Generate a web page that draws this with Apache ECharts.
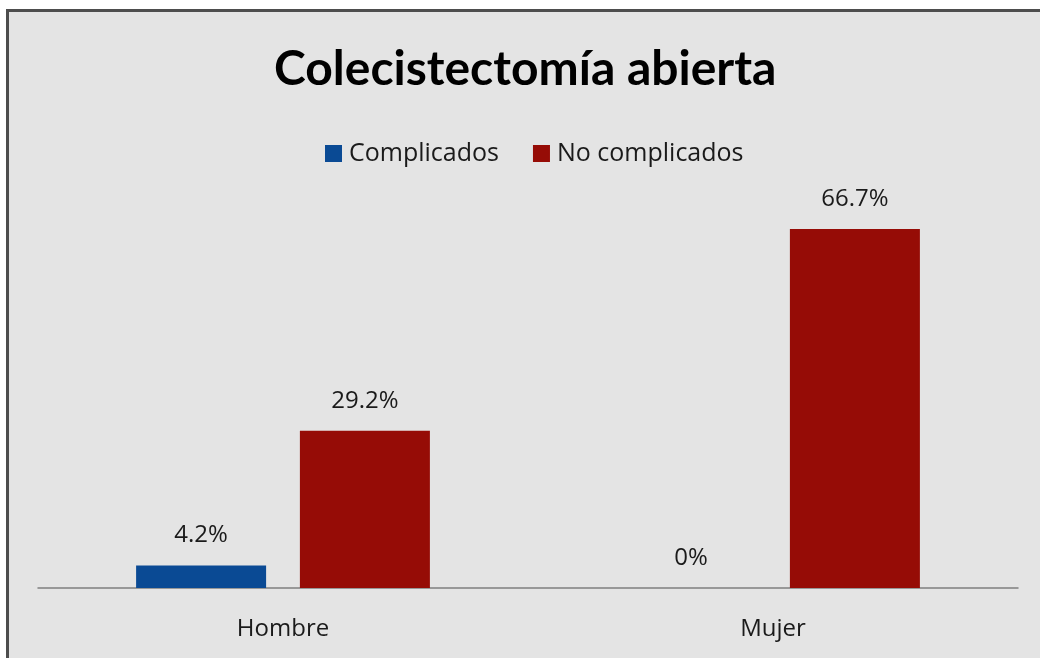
<!DOCTYPE html>
<html>
<head>
<meta charset="utf-8">
<script src="https://cdn.jsdelivr.net/npm/echarts@6/dist/echarts.min.js"></script>
<style>
html,body{margin:0;padding:0;background:#ffffff;}
#chart{width:1040px;height:658px;}
</style>
</head>
<body>
<div id="chart"></div>
<script>
var categories = ['Hombre', 'Mujer'];
var seriesNames = ['Complicados', 'No complicados'];
var complicados = [4.2, 0];
var noComplicados = [29.2, 66.7];
var labelTexts = [['4.2%', '0%'], ['29.2%', '66.7%']];

var chart = echarts.init(document.getElementById('chart'));
var titleFont = 'Lato, sans-serif';
var fontFam = '"Open Sans", Lato, sans-serif';
function mkLabel(idx) {
  return {
    show: true, position: 'top', distance: 18,
    color: '#1a1a1a', fontSize: 24, fontFamily: fontFam,
    formatter: function (p) { return labelTexts[idx][p.dataIndex]; }
  };
}
chart.setOption({
  animation: false,
  backgroundColor: '#ffffff',
  graphic: [{
    type: 'rect', z: -10, silent: true,
    shape: { x: 7.5, y: 10.5, width: 1100, height: 700 },
    style: { fill: '#e4e4e4', stroke: '#4d4d4d', lineWidth: 3 }
  }],
  title: {
    text: 'Colecistectomía abierta', left: 269, top: 41,
    textStyle: { fontSize: 48, fontWeight: 'bold', color: '#000', fontFamily: titleFont }
  },
  legend: {
    data: seriesNames, top: 136, left: 320,
    itemWidth: 17, itemHeight: 17, itemGap: 34,
    icon: 'rect',
    textStyle: { fontSize: 25, color: '#1a1a1a', fontFamily: fontFam, padding: [0, 0, 0, 2] }
  },
  grid: { left: 38, right: 22, top: 211.2, bottom: 70, containLabel: false },
  xAxis: {
    type: 'category', data: categories,
    axisLine: { lineStyle: { color: '#7f7f7f', width: 1.5 } },
    axisTick: { show: false },
    axisLabel: { fontSize: 24, color: '#1a1a1a', fontFamily: fontFam, margin: 29 }
  },
  yAxis: {
    type: 'value', min: 0, max: 70, show: false,
    splitLine: { show: false }
  },
  series: [
    { name: seriesNames[0], type: 'bar', data: complicados, barWidth: 130, barGap: '26%',
      itemStyle: { color: '#0a4a94' }, label: mkLabel(0) },
    { name: seriesNames[1], type: 'bar', data: noComplicados, barWidth: 130, barGap: '26%',
      itemStyle: { color: '#960c06' }, label: mkLabel(1) }
  ]
});
</script>
</body>
</html>
